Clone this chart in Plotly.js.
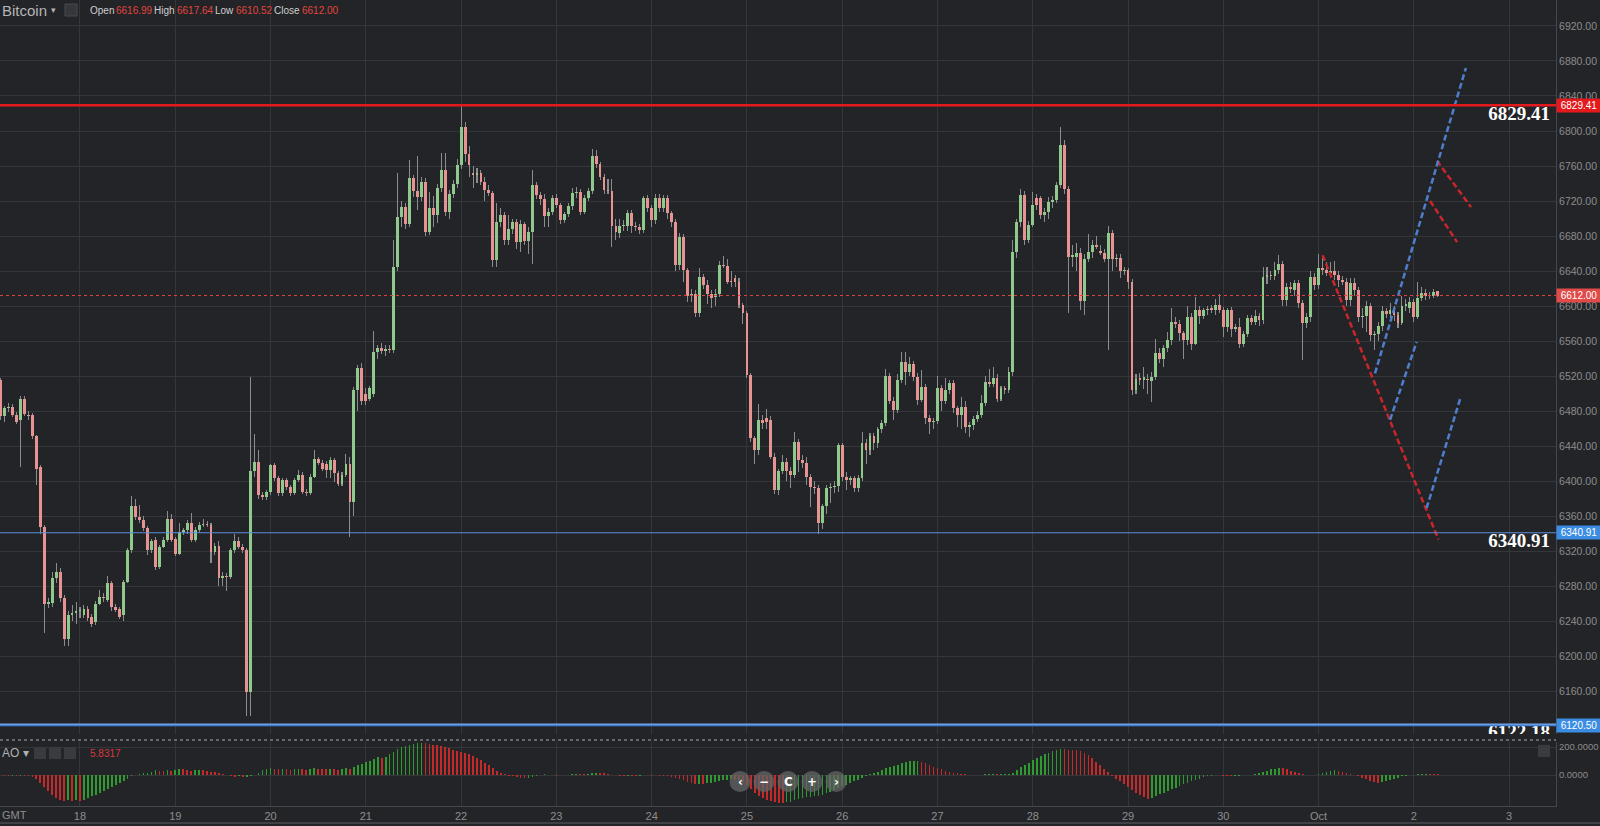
<!DOCTYPE html>
<html><head><meta charset="utf-8">
<script src="https://cdn.plot.ly/plotly-3.0.1.min.js"></script>
<style>html,body{margin:0;padding:0;background:#232428;overflow:hidden}#chart{width:1600px;height:826px}</style>
</head><body><div id="chart"></div>
<script>
// ---- hourly Bitcoin candles, first candle 2018-09-17 04:00 GMT ----
const firstCandle = Date.UTC(2018, 8, 17, 4, 0, 0);
const openP = [
6515,6474,6483,6485,6475,6470,6494,6476,6475,6451,
6416,6348,6260,6261,6289,6296,6266,6220,6247,6249,
6251,6247,6254,6245,6239,6260,6268,6264,6283,6256,
6254,6247,6285,6321,6371,6359,6356,6346,6321,6333,
6302,6325,6333,6357,6334,6317,6342,6344,6352,6333,
6344,6350,6351,6350,6319,6326,6289,6292,6290,6321,
6331,6325,6321,6159,6411,6422,6384,6382,6387,6418,
6403,6386,6401,6393,6386,6401,6407,6388,6386,6405,
6425,6421,6420,6413,6424,6409,6397,6407,6420,6376,
6504,6529,6500,6494,6500,6548,6552,6549,6551,6550,
6645,6702,6713,6694,6746,6731,6725,6742,6685,6712,
6704,6735,6755,6708,6728,6739,6761,6805,6774,6752,
6750,6752,6742,6733,6729,6653,6696,6704,6675,6688,
6696,6673,6694,6674,6685,6738,6727,6722,6703,6708,
6723,6715,6698,6705,6714,6729,6730,6707,6724,6731,
6772,6762,6748,6733,6731,6691,6683,6691,6691,6706,
6691,6690,6687,6723,6712,6698,6724,6712,6723,6706,
6696,6647,6679,6641,6611,6614,6592,6633,6624,6614,
6610,6614,6647,6646,6628,6632,6628,6601,6592,6521,
6449,6435,6470,6472,6470,6428,6390,6411,6422,6411,
6407,6445,6424,6421,6405,6393,6392,6352,6371,6392,
6393,6394,6441,6405,6401,6403,6392,6404,6443,6435,
6451,6444,6459,6466,6520,6492,6481,6516,6536,6525,
6534,6519,6493,6508,6472,6467,6469,6506,6491,6504,
6512,6483,6475,6485,6462,6464,6471,6475,6489,6513,
6511,6518,6494,6506,6504,6525,6662,6696,6727,6675,
6693,6723,6723,6704,6707,6719,6721,6738,6784,6734,
6656,6656,6661,6606,6654,6662,6670,6663,6661,6654,
6684,6654,6655,6640,6641,6628,6504,6517,6515,6517,
6514,6519,6546,6540,6552,6561,6582,6580,6569,6561,
6588,6557,6596,6589,6595,6597,6596,6601,6595,6576,
6595,6574,6576,6557,6568,6586,6582,6589,6584,6633,
6635,6634,6641,6648,6607,6622,6618,6626,6603,6581,
6587,6633,6624,6644,6641,6638,6640,6636,6630,6628,
6607,6626,6618,6587,6589,6600,6567,6568,6577,6594,
6591,6595,6590,6581,6600,6598,6605,6588,6609,6615,
6611,6612,6616.99];
const highP = [
6518,6486,6489,6488,6479,6497,6497,6480,6478,6453,
6418,6350,6266,6296,6306,6301,6270,6252,6258,6262,
6256,6258,6257,6248,6263,6276,6272,6291,6286,6259,
6256,6287,6323,6383,6379,6373,6360,6349,6334,6336,
6327,6336,6366,6362,6336,6352,6346,6355,6363,6347,
6353,6357,6354,6352,6329,6331,6296,6295,6324,6340,
6336,6328,6324,6519,6454,6436,6388,6390,6420,6421,
6406,6404,6404,6396,6403,6413,6410,6391,6408,6435,
6428,6424,6423,6427,6426,6412,6410,6431,6427,6507,
6533,6535,6506,6509,6572,6556,6558,6555,6556,6675,
6752,6720,6718,6767,6750,6771,6748,6746,6730,6726,
6740,6775,6775,6733,6744,6768,6830,6810,6783,6760,
6758,6755,6748,6738,6732,6718,6712,6708,6704,6700,
6700,6698,6696,6690,6755,6742,6730,6728,6712,6727,
6728,6718,6708,6718,6735,6736,6734,6727,6735,6780,
6778,6765,6751,6745,6745,6700,6700,6698,6710,6710,
6696,6694,6726,6727,6716,6728,6728,6727,6727,6709,
6699,6683,6682,6644,6620,6618,6643,6637,6630,6618,
6620,6652,6657,6654,6640,6636,6632,6604,6594,6523,
6452,6488,6475,6482,6474,6432,6414,6430,6426,6416,
6456,6448,6430,6428,6408,6400,6396,6374,6395,6398,
6400,6444,6444,6410,6406,6406,6407,6456,6448,6455,
6455,6462,6470,6528,6524,6496,6522,6548,6548,6542,
6537,6523,6527,6511,6475,6472,6520,6510,6518,6516,
6515,6486,6496,6492,6468,6474,6480,6498,6520,6528,
6530,6522,6509,6509,6530,6676,6700,6734,6731,6697,
6730,6728,6726,6712,6725,6726,6742,6805,6790,6737,
6670,6672,6666,6660,6682,6675,6680,6670,6665,6692,
6687,6660,6660,6645,6644,6631,6522,6524,6530,6522,
6525,6562,6552,6556,6570,6598,6588,6584,6572,6600,
6592,6610,6600,6598,6600,6601,6608,6614,6599,6598,
6599,6580,6586,6572,6590,6590,6595,6592,6645,6645,
6640,6650,6658,6652,6626,6628,6630,6630,6607,6592,
6640,6638,6660,6655,6650,6650,6652,6640,6634,6632,
6632,6632,6622,6598,6606,6603,6572,6582,6600,6598,
6604,6600,6593,6612,6608,6610,6608,6628,6622,6619,
6616,6620,6617.64];
const lowP = [
6470,6468,6479,6473,6465,6416,6474,6470,6448,6395,
6340,6226,6255,6256,6284,6262,6212,6212,6240,6237,
6244,6243,6240,6233,6236,6258,6262,6262,6252,6250,
6242,6240,6283,6318,6356,6352,6343,6316,6318,6298,
6299,6323,6330,6330,6314,6315,6338,6340,6330,6330,
6342,6348,6348,6306,6316,6280,6280,6274,6288,6318,
6322,6318,6131,6131,6405,6380,6378,6378,6384,6400,
6383,6383,6390,6383,6384,6399,6385,6383,6384,6403,
6418,6411,6403,6404,6399,6394,6394,6405,6336,6360,
6480,6487,6487,6492,6496,6540,6545,6543,6546,6546,
6640,6690,6688,6690,6725,6710,6720,6680,6681,6690,
6695,6730,6703,6700,6724,6735,6757,6765,6748,6735,
6741,6738,6720,6726,6645,6645,6690,6670,6670,6682,
6665,6662,6670,6660,6648,6722,6716,6690,6690,6704,
6712,6694,6695,6702,6710,6724,6704,6705,6720,6728,
6758,6744,6728,6728,6668,6676,6678,6686,6686,6684,
6686,6682,6684,6708,6690,6694,6708,6708,6700,6690,
6640,6641,6628,6605,6605,6588,6588,6620,6602,6598,
6600,6610,6643,6625,6622,6622,6598,6580,6518,6445,
6420,6430,6460,6460,6425,6385,6384,6408,6400,6392,
6404,6410,6415,6396,6370,6385,6340,6345,6362,6375,
6386,6388,6400,6390,6396,6388,6388,6400,6420,6430,
6435,6438,6455,6463,6488,6470,6478,6512,6510,6520,
6514,6487,6490,6465,6454,6460,6465,6480,6488,6500,
6478,6462,6460,6455,6450,6458,6468,6472,6486,6508,
6507,6490,6491,6500,6501,6520,6655,6690,6670,6672,
6690,6710,6700,6696,6700,6712,6718,6735,6728,6592,
6645,6640,6595,6590,6650,6655,6665,6658,6650,6550,
6640,6645,6632,6635,6620,6498,6500,6510,6505,6500,
6490,6515,6535,6530,6548,6556,6575,6560,6540,6555,
6550,6555,6580,6585,6590,6592,6590,6592,6565,6570,
6565,6570,6552,6553,6565,6578,6578,6577,6580,6625,
6630,6630,6637,6600,6600,6615,6612,6598,6538,6575,
6582,6618,6620,6636,6634,6632,6630,6622,6624,6600,
6600,6612,6582,6575,6570,6560,6550,6560,6572,6586,
6585,6583,6575,6578,6594,6592,6582,6585,6606,6607,
6608,6609,6610.52];
const closeP = [
6474,6483,6485,6475,6468,6494,6477,6474,6451,6414,
6348,6260,6261,6289,6296,6266,6220,6247,6249,6251,
6253,6254,6243,6237,6260,6268,6266,6283,6256,6253,
6245,6285,6321,6371,6359,6355,6346,6321,6331,6302,
6325,6333,6357,6333,6317,6342,6344,6352,6333,6344,
6350,6351,6350,6319,6326,6289,6292,6290,6321,6331,
6325,6321,6159,6411,6422,6384,6382,6387,6418,6403,
6386,6401,6393,6386,6401,6407,6388,6386,6405,6425,
6421,6414,6413,6424,6409,6397,6407,6420,6376,6504,
6529,6491,6491,6506,6548,6552,6549,6551,6550,6645,
6702,6713,6694,6746,6731,6725,6742,6685,6712,6704,
6735,6755,6708,6728,6739,6761,6805,6774,6761,6750,
6752,6742,6733,6729,6653,6696,6704,6675,6688,6696,
6673,6694,6674,6685,6738,6727,6722,6703,6708,6723,
6715,6698,6705,6714,6729,6730,6707,6724,6731,6772,
6762,6748,6733,6731,6691,6685,6691,6692,6706,6691,
6690,6687,6723,6712,6698,6724,6712,6723,6706,6696,
6647,6679,6641,6611,6614,6592,6633,6624,6614,6609,
6614,6647,6646,6628,6627,6628,6601,6592,6521,6449,
6435,6470,6466,6468,6428,6390,6411,6422,6411,6407,
6445,6424,6421,6405,6393,6392,6352,6371,6392,6393,
6394,6441,6405,6401,6403,6392,6404,6443,6435,6451,
6444,6459,6466,6520,6492,6481,6516,6536,6525,6534,
6519,6493,6508,6472,6467,6469,6506,6491,6504,6512,
6483,6475,6485,6462,6464,6471,6475,6489,6513,6511,
6518,6494,6506,6504,6525,6662,6696,6727,6675,6693,
6715,6715,6704,6707,6719,6721,6738,6784,6734,6656,
6658,6661,6606,6654,6662,6670,6668,6661,6654,6684,
6654,6655,6640,6641,6628,6504,6517,6516,6519,6515,
6519,6546,6540,6552,6561,6582,6580,6569,6561,6588,
6557,6596,6589,6595,6597,6596,6601,6595,6576,6595,
6574,6576,6557,6568,6586,6582,6589,6584,6633,6635,
6634,6641,6648,6607,6622,6620,6626,6603,6581,6587,
6633,6624,6644,6641,6638,6640,6636,6630,6628,6607,
6626,6618,6587,6589,6600,6567,6568,6577,6594,6591,
6595,6590,6581,6600,6602,6605,6588,6609,6615,6611,
6612,6616,6612.00];
// Awesome Oscillator, one value per candle
const aoValues = [
-3,-4,-5,-4,-6,-5,-7,-9,-15,-30,
-55,-85,-115,-145,-165,-175,-183,-180,-186,-178,
-187,-178,-166,-152,-140,-126,-112,-98,-84,-70,
-55,-40,-25,-10,2,8,12,15,25,35,
30,28,35,30,38,42,40,36,30,33,
38,35,30,25,22,18,10,2,-8,-12,
-10,-15,-12,-5,0,15,35,45,50,46,
42,45,40,36,40,45,42,38,42,48,
46,44,40,44,42,38,42,48,45,58,
70,82,92,100,115,128,124,132,148,165,
185,198,205,215,222,228,232,228,224,218,
212,205,198,190,180,172,168,160,150,138,
122,105,88,70,50,32,15,5,-5,-10,
-15,-20,-22,-18,-12,-5,2,5,3,-2,
-4,-3,0,3,5,8,6,5,8,15,
18,16,12,8,3,-2,-4,-6,-5,-7,
-8,-6,-3,-2,-4,-3,-5,-6,-8,-12,
-20,-28,-38,-48,-58,-64,-62,-66,-60,-55,
-50,-42,-36,-33,-30,-32,-38,-50,-70,-100,
-130,-150,-165,-175,-185,-192,-196,-198,-195,-190,
-180,-170,-162,-158,-155,-150,-146,-140,-130,-118,
-106,-92,-80,-68,-56,-45,-34,-20,-8,5,
15,25,35,48,58,66,75,84,92,98,
100,102,95,85,72,60,50,40,32,25,
18,12,8,5,2,-2,-3,0,4,6,
8,7,8,9,10,18,35,55,72,88,
105,120,135,148,160,170,178,185,183,182,
180,178,170,160,145,120,95,70,45,20,
-5,-25,-45,-65,-85,-105,-125,-145,-160,-170,
-162,-150,-138,-126,-114,-102,-90,-78,-66,-55,
-44,-34,-25,-16,-9,-4,-3,-2,-4,-5,
-6,-5,-4,-3,-1,2,6,12,22,32,
40,46,50,48,40,32,24,16,8,2,
0,2,8,16,24,30,34,30,24,16,
8,2,-6,-18,-30,-42,-52,-56,-50,-42,
-34,-26,-18,-10,-4,0,3,5,6,7,
6.2,6.0,5.8317];

const dayTicks = ['2018-09-18','2018-09-19','2018-09-20','2018-09-21','2018-09-22','2018-09-23','2018-09-24','2018-09-25','2018-09-26','2018-09-27','2018-09-28','2018-09-29','2018-09-30','2018-10-01','2018-10-02','2018-10-03'];
const dayLabels = ['18','19','20','21','22','23','24','25','26','27','28','29','30','Oct','2','3'];
const priceTicks = [6160,6200,6240,6280,6320,6360,6400,6440,6480,6520,6560,6600,6640,6680,6720,6760,6800,6840,6880,6920];
const aoTicks = [0, 200];
const aoTickLabels = ['0.0000','200.0000'];

// horizontal levels
const resistanceLevel = 6829.41;
const lastPrice = 6612.00;
const supportLevel = 6340.91;
const lowLevelA = 6122.18;
const lowLevelB = 6120.50;

// drawn trend lines [time, price]
const redTrendX = ['2018-10-01 01:00','2018-10-02 06:12'];
const redTrendY = [6658, 6333];
const redShortAX = ['2018-10-02 05:48','2018-10-02 14:24'];
const redShortAY = [6766, 6713];
const redShortBX = ['2018-10-02 04:06','2018-10-02 10:54'];
const redShortBY = [6720, 6673];
const blueTrend1X = ['2018-10-01 14:12','2018-10-02 13:06'];
const blueTrend1Y = [6523, 6872];
const blueTrend2X = ['2018-10-01 18:00','2018-10-02 00:42'];
const blueTrend2Y = [6470, 6559];
const blueTrend3X = ['2018-10-02 03:12','2018-10-02 11:48'];
const blueTrend3Y = [6369, 6496];
const bigLabelTime = '2018-10-03 02:30';

// ---------------- drawing ----------------
const HOUR = 3600000;
const BG = '#232428', GRID = '#34363a';
const UP = '#8fca8c', DOWN = '#e89393', WICK = '#8c8c8c';
const AO_UP = '#2f9a30', AO_DOWN = '#c42a2a';
const FONT = 'Liberation Sans, Arial, sans-serif';

function fmt(ms){const d=new Date(ms);const p=n=>String(n).padStart(2,'0');
  return d.getUTCFullYear()+'-'+p(d.getUTCMonth()+1)+'-'+p(d.getUTCDate())+' '+p(d.getUTCHours())+':'+p(d.getUTCMinutes());}
const times = closeP.map((_, i) => fmt(firstCandle + i*HOUR));

const bodyBase = openP.map((o,i)=>Math.min(o, closeP[i]));
const bodyLen = openP.map((o,i)=>Math.max(Math.abs(closeP[i]-o), 1.3));
const bodyCol = openP.map((o,i)=> closeP[i] >= o ? UP : DOWN);
const wickLen = highP.map((h,i)=> h - lowP[i]);
const aoCol = aoValues.map((v,i)=> (i>0 && v > aoValues[i-1]) ? AO_UP : AO_DOWN);

const traces = [
  {type:'bar', x:times, y:wickLen, base:lowP, width:0.26*HOUR, marker:{color:WICK, line:{width:0}}, hoverinfo:'skip', xaxis:'x', yaxis:'y'},
  {type:'bar', x:times, y:bodyLen, base:bodyBase, width:0.72*HOUR, marker:{color:bodyCol, line:{width:0}}, hoverinfo:'skip', xaxis:'x', yaxis:'y'},
  {type:'bar', x:times, y:aoValues, width:0.42*HOUR, marker:{color:aoCol, line:{width:0}}, hoverinfo:'skip', xaxis:'x2', yaxis:'y2'},
];
const dashLine = (x,y,c)=>({type:'scatter', mode:'lines', x:x, y:y, line:{color:c, width:2.5, dash:'6px,3px'}, hoverinfo:'skip', xaxis:'x', yaxis:'y'});
traces.push(dashLine(redTrendX, redTrendY, '#c8262b'));
traces.push(dashLine(redShortAX, redShortAY, '#c8262b'));
traces.push(dashLine(redShortBX, redShortBY, '#c8262b'));
traces.push(dashLine(blueTrend1X, blueTrend1Y, '#4f7fcc'));
traces.push(dashLine(blueTrend2X, blueTrend2Y, '#4f7fcc'));
traces.push(dashLine(blueTrend3X, blueTrend3Y, '#4f7fcc'));
const bigLevels = [resistanceLevel, supportLevel, lowLevelA];
traces.push({type:'scatter', mode:'text', x:bigLevels.map(()=>bigLabelTime), y:bigLevels,
  text:bigLevels.map(v=>v.toFixed(2)), textposition:'bottom center', cliponaxis:true,
  textfont:{family:'Liberation Serif, Times New Roman, serif', size:19, color:'#ffffff', weight:'bold'},
  hoverinfo:'skip', xaxis:'x', yaxis:'y'});

const W = 1556, H = 806;
const px = v => v / W, py = v => 1 - v / H;
const shapes = [
  {type:'line', xref:'paper', x0:0, x1:1, yref:'y', y0:resistanceLevel, y1:resistanceLevel, line:{color:'#e3191c', width:2.5}},
  {type:'line', xref:'paper', x0:0, x1:1, yref:'y', y0:lastPrice, y1:lastPrice, line:{color:'#e0403e', width:1, dash:'dot'}},
  {type:'line', xref:'paper', x0:0, x1:1, yref:'y', y0:supportLevel, y1:supportLevel, line:{color:'#5b8edb', width:1.2}},
  {type:'line', xref:'paper', x0:0, x1:1, yref:'y', y0:lowLevelA, y1:lowLevelA, line:{color:'#7aa6e6', width:1.5}},
  {type:'line', xref:'paper', x0:0, x1:1, yref:'y', y0:lowLevelB, y1:lowLevelB, line:{color:'#3f7fd6', width:1.5}},
  {type:'line', xref:'paper', x0:0, x1:1, yref:'paper', y0:py(740), y1:py(740), line:{color:'rgba(200,200,200,0.55)', width:1.5, dash:'dot'}},
  {type:'line', xref:'paper', x0:0, x1:1600/W, yref:'paper', y0:py(823), y1:py(823), line:{color:'#4a4b4f', width:1.5}},
  {type:'rect', xref:'paper', yref:'paper', x0:px(65), x1:px(77), y0:py(16), y1:py(4), fillcolor:'#36373b', line:{color:'#4a4b4f', width:1}},
  {type:'rect', xref:'paper', yref:'paper', x0:px(34), x1:px(46), y0:py(759), y1:py(747), fillcolor:'#3a3b3f', line:{width:0}},
  {type:'rect', xref:'paper', yref:'paper', x0:px(49), x1:px(61), y0:py(759), y1:py(747), fillcolor:'#3a3b3f', line:{width:0}},
  {type:'rect', xref:'paper', yref:'paper', x0:px(64), x1:px(76), y0:py(759), y1:py(747), fillcolor:'#3a3b3f', line:{width:0}},
  {type:'rect', xref:'paper', yref:'paper', x0:px(1538), x1:px(1550), y0:py(757), y1:py(745), fillcolor:'#3a3b3f', line:{width:0}},
];
const navX = [740, 764, 788, 812, 836];
const navSym = ['‹','−','C','+','›'];
navX.forEach(cx => shapes.push({type:'circle', xref:'paper', yref:'paper', x0:px(cx-10.5), x1:px(cx+10.5), y0:py(792), y1:py(771), fillcolor:'rgba(100,100,100,0.75)', line:{width:0}}));

const ann = [];
const hdr = (x, text, color, size) => ann.push({xref:'paper', yref:'paper', x:px(x), y:py(10), xanchor:'left', yanchor:'middle', text:text, showarrow:false, font:{family:FONT, size:size, color:color}});
hdr(0, 'Bitcoin', '#b5b5b5', 15);
hdr(49, '▾', '#b5b5b5', 9);
const last = closeP.length - 1;
hdr(88, 'Open', '#cfcfcf', 10); hdr(114, openP[last].toFixed(2), '#e0443e', 10);
hdr(152, 'High', '#cfcfcf', 10); hdr(175, highP[last].toFixed(2), '#e0443e', 10);
hdr(213, 'Low', '#cfcfcf', 10); hdr(234, lowP[last].toFixed(2), '#e0443e', 10);
hdr(272, 'Close', '#cfcfcf', 10); hdr(300, closeP[last].toFixed(2), '#e0443e', 10);
ann.push({xref:'paper', yref:'paper', x:0, y:py(753), xanchor:'left', yanchor:'middle', text:'AO ▾', showarrow:false, font:{family:FONT, size:12, color:'#b0b0b0'}});
ann.push({xref:'paper', yref:'paper', x:px(88), y:py(753), xanchor:'left', yanchor:'middle', text:aoValues[last].toFixed(4), showarrow:false, font:{family:FONT, size:10, color:'#d43a3a'}});
ann.push({xref:'paper', yref:'paper', x:0, y:py(815), xanchor:'left', yanchor:'middle', text:'GMT', showarrow:false, font:{family:FONT, size:11, color:'#8e8e8e'}});
const tag = (v, bg) => ann.push({xref:'paper', yref:'y', x:1, y:v, xanchor:'left', yanchor:'middle', text:v.toFixed(2), showarrow:false, width:42, align:'center', bgcolor:bg, borderpad:1, font:{family:FONT, size:10, color:'#ffffff'}});
tag(resistanceLevel, '#e3191c');
tag(lastPrice, '#e04a48');
tag(supportLevel, '#3b8de4');
tag(lowLevelB, '#3b8de4');
navX.forEach((cx, i) => ann.push({xref:'paper', yref:'paper', x:px(cx), y:py(781.5), xanchor:'center', yanchor:'middle', text:'<b>'+navSym[i]+'</b>', showarrow:false, font:{family:'DejaVu Sans, sans-serif', size:12, color:'#ffffff'}}));

const xRange = ['2018-09-17 03:51','2018-10-03 11:48'];
const layout = {
  width:1600, height:826, margin:{l:0, r:44, t:0, b:20},
  paper_bgcolor:BG, plot_bgcolor:BG, showlegend:false, barmode:'overlay', bargap:0,
  xaxis:{type:'date', domain:[0,1], anchor:'y', range:xRange, tickvals:dayTicks, ticktext:dayLabels, showticklabels:false,
    showgrid:true, gridcolor:GRID, zeroline:false, showline:false, ticks:'', fixedrange:true, rangeslider:{visible:false}},
  xaxis2:{type:'date', domain:[0,1], anchor:'y2', matches:'x', range:xRange, tickvals:dayTicks, ticktext:dayLabels,
    showgrid:true, gridcolor:GRID, zeroline:false, showline:true, linecolor:'#46484c', ticks:'',
    tickfont:{family:FONT, size:11, color:'#8e8e8e'}},
  yaxis:{domain:[1-734/H, 1], anchor:'x', side:'right', range:[6110.9, 6949.7], tickvals:priceTicks, ticktext:priceTicks.map(v=>v.toFixed(2)),
    showgrid:true, gridcolor:GRID, zeroline:false, showline:true, linecolor:'#46484c', ticks:'',
    tickfont:{family:FONT, size:10.5, color:'#8c8c8c'}},
  yaxis2:{domain:[0, 1-742/H], anchor:'x2', side:'right', range:[-221, 236], tickvals:aoTicks, ticktext:aoTickLabels,
    showgrid:true, gridcolor:GRID, zeroline:false, showline:true, linecolor:'#46484c', ticks:'',
    tickfont:{family:FONT, size:9.5, color:'#8c8c8c'}},
  shapes:shapes, annotations:ann
};
Plotly.newPlot('chart', traces, layout, {staticPlot:true, displayModeBar:false});
</script></body></html>
